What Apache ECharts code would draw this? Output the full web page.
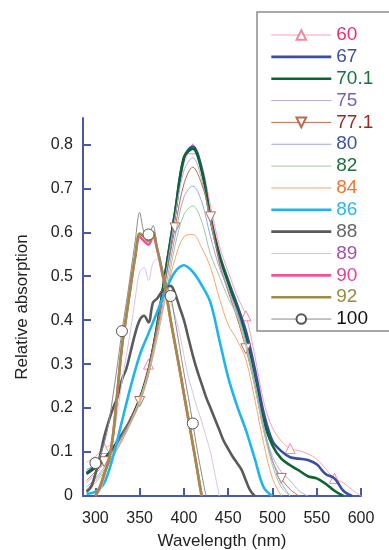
<!DOCTYPE html>
<html>
<head>
<meta charset="utf-8">
<script src="https://cdn.jsdelivr.net/npm/echarts@6/dist/echarts.min.js"></script>
<style>
  html, body { margin: 0; padding: 0; background: #fff; }
  #chart { width: 389px; height: 550px; }
</style>
</head>
<body>
<div id="chart"></div>
<script>
// Wavelength grids (nm)
const wlLong = [290,300,310,320,330,340,350,360,370,380,390,400,410,420,430,440,450,460,470,480,490,500,510,520,530,540,550,560,570,580,590,600];
const wlShort = [290,295,300,305,310,315,320,325,330,335,340,345,350,355,360,365,370,375,380,385,390,395,400,405,410,415,420,425,430,435,440,445,450,455,460,465,470,475,480];

// Series names (legend labels)
const seriesNames = ['60','67','70.1','75','77.1','80','82','84','86','88','89','90','92','100'];

// Absorption spectra on the 10 nm grid
const abs60  = [0.077,0.09,0.108,0.12,0.145,0.18,0.225,0.30,0.38,0.50,0.63,0.755,0.79,0.755,0.66,0.57,0.51,0.455,0.41,0.32,0.215,0.155,0.125,0.108,0.103,0.096,0.084,0.062,0.04,0.03,0.014,0.0];
const abs67  = [0.052,0.068,0.085,0.11,0.14,0.175,0.22,0.285,0.39,0.52,0.645,0.77,0.795,0.745,0.635,0.55,0.49,0.435,0.375,0.29,0.19,0.125,0.102,0.088,0.085,0.082,0.072,0.05,0.04,0.012,0.0,null];
const abs701 = [0.05,0.065,0.083,0.108,0.138,0.173,0.22,0.285,0.39,0.52,0.645,0.77,0.79,0.74,0.63,0.545,0.485,0.425,0.36,0.265,0.172,0.115,0.085,0.07,0.058,0.045,0.04,0.028,0.012,0.0,null,null];
const abs75  = [0.03,0.05,0.075,0.10,0.135,0.172,0.22,0.285,0.385,0.51,0.635,0.74,0.77,0.72,0.625,0.535,0.47,0.415,0.35,0.26,0.16,0.09,0.055,0.035,0.012,0.0,null,null,null,null,null,null];
const abs771 = [0.035,0.055,0.078,0.105,0.14,0.18,0.215,0.29,0.39,0.50,0.61,0.71,0.748,0.71,0.635,0.53,0.465,0.405,0.335,0.25,0.15,0.08,0.04,0.015,0.0,null,null,null,null,null,null,null];
const abs80  = [0.02,0.04,0.065,0.095,0.13,0.17,0.215,0.28,0.37,0.48,0.59,0.68,0.705,0.67,0.59,0.52,0.47,0.42,0.35,0.26,0.16,0.08,0.03,0.0,null,null,null,null,null,null,null,null];
const abs82  = [0.015,0.035,0.06,0.09,0.125,0.165,0.21,0.275,0.36,0.46,0.57,0.64,0.66,0.625,0.55,0.50,0.45,0.41,0.34,0.25,0.15,0.07,0.02,0.0,null,null,null,null,null,null,null,null];
const abs84  = [0.01,0.03,0.055,0.09,0.125,0.17,0.22,0.285,0.37,0.46,0.54,0.59,0.595,0.565,0.52,0.45,0.39,0.355,0.31,0.22,0.12,0.04,0.0,null,null,null,null,null,null,null,null,null];
const abs86  = [0.005,0.01,0.03,0.09,0.17,0.25,0.32,0.37,0.42,0.47,0.51,0.525,0.51,0.48,0.44,0.355,0.27,0.205,0.15,0.085,0.02,0.0,null,null,null,null,null,null,null,null,null,null];

// Absorption spectra on the 5 nm grid
const abs88  = [0.01,0.02,0.05,0.09,0.135,0.17,0.2,0.225,0.265,0.29,0.33,0.37,0.40,0.41,0.395,0.44,0.45,0.465,0.475,0.478,0.46,0.43,0.40,0.36,0.32,0.285,0.255,0.225,0.2,0.175,0.15,0.125,0.107,0.09,0.075,0.06,0.035,0.012,0.0];
const abs89  = [null,null,0.0,0.01,0.04,0.08,0.13,0.19,0.26,0.32,0.38,0.45,0.51,0.52,0.49,0.53,0.54,0.5,0.47,0.44,0.41,0.37,0.32,0.27,0.235,0.2,0.17,0.135,0.1,0.05,0.0,null,null,null,null,null,null,null,null];
const abs90  = [null,null,0.0,0.02,0.05,0.08,0.14,0.24,0.34,0.41,0.48,0.545,0.59,0.58,0.572,0.59,0.56,0.515,0.46,0.40,0.345,0.29,0.232,0.175,0.118,0.06,0.0,null,null,null,null,null,null,null,null,null,null,null,null];
const abs92  = [null,null,0.0,0.02,0.05,0.08,0.14,0.24,0.34,0.41,0.48,0.545,0.597,0.59,0.58,0.60,0.56,0.515,0.46,0.40,0.345,0.29,0.232,0.175,0.118,0.06,0.0,null,null,null,null,null,null,null,null,null,null,null,null];
const abs100 = [0.06,0.065,0.075,0.09,0.12,0.165,0.23,0.30,0.375,0.44,0.51,0.58,0.645,0.60,0.595,0.615,0.56,0.52,0.485,0.455,0.40,0.34,0.28,0.225,0.165,0.105,0.05,0.0,null,null,null,null,null,null,null,null,null,null,null];

// Wavelengths carrying a marker symbol
const marks60 = [310,360,410,470,520,570];
const marks771 = [310,350,390,430,470,510];
const marks100 = [300,330,360,385,410];

// Axis ticks
const xTicks = [300,350,400,450,500,550,600];
const yTicks = [0,0.1,0.2,0.3,0.4,0.5,0.6,0.7,0.8];

const lineColors = ['#f5a3b5','#3a4ea5','#0b6634','#b3aedc','#c06a4a','#9fa6d9','#a0c8a5','#f8a46e','#1eb4ec','#5a5a5a','#dcc2ea','#f0559c','#a48b45','#8a8a8a'];
const textColors = ['#e8336e','#3d4f9f','#1b7040','#7d5fb5','#9b2a1c','#4052a0','#1f6e3e','#f27530','#29b6ee','#666666','#9b55ad','#ea3f95','#a08840','#111111'];
const lineWidths = [1,2.6,2.6,1,1,1,1,1,2.6,2.6,1,2.6,2.6,1];

const spectra = [
  [wlLong, abs60, marks60],
  [wlLong, abs67, null],
  [wlLong, abs701, null],
  [wlLong, abs75, null],
  [wlLong, abs771, marks771],
  [wlLong, abs80, null],
  [wlLong, abs82, null],
  [wlLong, abs84, null],
  [wlLong, abs86, null],
  [wlShort, abs88, null],
  [wlShort, abs89, null],
  [wlShort, abs90, null],
  [wlShort, abs92, null],
  [wlShort, abs100, marks100]
];

const symbolFor = { '60': ['triangle', 0], '77.1': ['triangle', 180], '100': ['circle', 0] };
const markerStroke = { '60': '#f08aa0', '77.1': '#b86a4a', '100': '#555555' };

const axisBlue = '#4a58aa';
const font = '"Liberation Sans", Arial, sans-serif';

function buildData(wl, vals, marks) {
  const out = [];
  for (let i = 0; i < wl.length; i++) {
    if (vals[i] === null) continue;
    const item = { value: [wl[i], vals[i]] };
    if (!marks || marks.indexOf(wl[i]) < 0) item.symbol = 'none';
    out.push(item);
  }
  return out;
}

const series = spectra.map(function (s, i) {
  const name = seriesNames[i];
  const sym = symbolFor[name];
  const cfg = {
    name: name,
    type: 'line',
    smooth: 0.35,
    data: buildData(s[0], s[1], s[2]),
    lineStyle: { color: lineColors[i], width: lineWidths[i] },
    emphasis: { disabled: true },
    z: 2 + i
  };
  if (sym) {
    cfg.symbol = sym[0];
    cfg.symbolRotate = sym[1];
    cfg.symbolSize = name === '100' ? 11 : 10;
    cfg.showSymbol = true;
    cfg.showAllSymbol = true;
    cfg.itemStyle = { color: '#ffffff', borderColor: markerStroke[name], borderWidth: 1 };
  } else {
    cfg.symbol = 'none';
    cfg.itemStyle = { color: lineColors[i] };
  }
  return cfg;
});

// Legend entries: line sample in the series colour, marker only where the series has one
const legendData = seriesNames.map(function (n, i) {
  const item = {
    name: n,
    textStyle: { color: textColors[i] },
    lineStyle: { color: lineColors[i], width: lineWidths[i], opacity: 1 }
  };
  if (!symbolFor[n]) item.itemStyle = { opacity: 0 };
  return item;
});

const chart = echarts.init(document.getElementById('chart'), null, { renderer: 'canvas' });
chart.setOption({
  animation: false,
  backgroundColor: '#ffffff',
  textStyle: { fontFamily: font },
  grid: { left: 83, right: 28, top: 118, bottom: 54, containLabel: false, outerBoundsMode: 'none' },
  xAxis: {
    type: 'value', min: 286, max: 600,
    name: 'Wavelength (nm)', nameLocation: 'middle', nameGap: 37,
    nameTextStyle: { fontSize: 17, color: '#222', fontFamily: font },
    axisLine: { show: true, onZero: false, lineStyle: { color: axisBlue, width: 2 } },
    axisTick: { show: true, inside: true, length: 8, customValues: xTicks, lineStyle: { color: axisBlue, width: 2 } },
    axisLabel: { customValues: xTicks, color: '#222', fontSize: 16, margin: 15, fontFamily: font },
    splitLine: { show: false }
  },
  yAxis: {
    type: 'value', min: 0, max: 0.86,
    name: 'Relative absorption', nameLocation: 'middle', nameGap: 52, nameRotate: 90,
    nameTextStyle: { fontSize: 17, color: '#222', fontFamily: font },
    axisLine: { show: true, onZero: false, lineStyle: { color: axisBlue, width: 2 } },
    axisTick: { show: true, inside: true, length: 8, customValues: yTicks, lineStyle: { color: axisBlue, width: 2 } },
    axisLabel: { customValues: yTicks, color: '#222', fontSize: 16, margin: 10, fontFamily: font },
    splitLine: { show: false }
  },
  legend: {
    orient: 'vertical', left: 270, top: 25, padding: 0,
    itemWidth: 60, itemHeight: 12, itemGap: 1.85,
    selectedMode: false,
    textStyle: { fontSize: 19, lineHeight: 20, fontFamily: font },
    data: legendData,
    z: 20
  },
  graphic: [{
    type: 'rect', z: 15,
    shape: { x: 257, y: 12, width: 160, height: 319 },
    style: { fill: '#ffffff', stroke: '#8c8c8c', lineWidth: 1.5 }
  }],
  series: series
});
</script>
</body>
</html>
